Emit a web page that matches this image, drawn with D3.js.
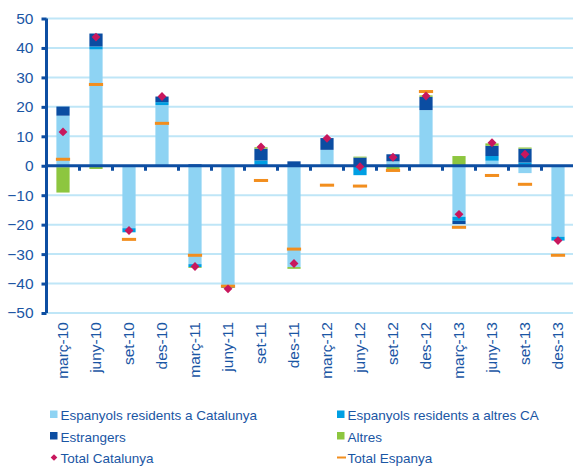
<!DOCTYPE html>
<html lang="ca">
<head>
<meta charset="UTF-8">
<script src="https://d3js.org/d3.v7.min.js"></script>
<style>
  body { margin: 0; background: #fff; }
  svg text { font-family: "Liberation Sans", Arial, sans-serif; fill: #1a56a4; }
</style>
</head>
<body>
<div id="chart"></div>
<script>
  // data (variation, thousands)
  const categories = ["març-10", "juny-10", "set-10", "des-10", "març-11", "juny-11", "set-11", "des-11",
    "març-12", "juny-12", "set-12", "des-12", "març-13", "juny-13", "set-13", "des-13"];
  const espCatalunya = [17.0, 39.5, -21.2, 20.6, -33.4, -41.0, 0, -34.4, 5.4, -0.3, 1.5, 18.9, -17.3, 1.7, -2.5, -24.1];
  const espAltresCA = [-0.5, 1.0, -1.4, 1.0, -1.0, -0.5, 1.8, 0, 0, -2.9, 0, 0, -1.4, 1.6, 1.1, -1.3];
  const estrangers = [3.1, 4.4, 0, 1.9, 0.5, 0, 4.0, 1.5, 4.0, 2.8, 2.4, 4.5, -1.1, 3.5, 4.7, 0];
  const altres = [-8.6, -1.1, 0, 0, -0.3, 0, 0.5, -0.6, 0, 0.3, -1.1, 0.5, 3.3, 0.8, 0.4, 0];
  const totalCatalunya = [11.5, 43.7, -22.0, 23.5, -34.2, -41.8, 6.4, -33.2, 9.3, -0.3, 2.9, 23.7, -16.5, 7.8, 3.9, -25.4];
  const totalEspanya = [2.2, 27.6, -25.0, 14.4, -30.4, -40.9, -5.0, -28.3, -6.6, -6.9, -1.6, 25.2, -20.9, -3.3, -6.3, -30.4];
  const yTicks = [50, 40, 30, 20, 10, 0, -10, -20, -30, -40, -50];

  const seriesNames = ["Espanyols residents a Catalunya", "Espanyols residents a altres CA", "Estrangers", "Altres"];
  const seriesColors = ["#8ed3f3", "#009fe3", "#0b4da2", "#8dc63f"];
  const seriesValues = [espCatalunya, espAltresCA, estrangers, altres];

  const width = 573, height = 467;
  const svg = d3.select("#chart").append("svg")
    .attr("width", width).attr("height", height);

  const x = d3.scaleBand()
    .domain(categories)
    .range([46.5, 574.5])
    .paddingInner(0.6)
    .paddingOuter(0.3);

  const y = d3.scaleLinear()
    .domain([-50, 50])
    .range([313, 18.5]);

  // grid lines
  svg.append("g")
    .selectAll("line")
    .data(yTicks.filter(d => d !== 0))
    .join("line")
    .attr("x1", 46).attr("x2", width)
    .attr("y1", d => y(d)).attr("y2", d => y(d))
    .attr("stroke", "#bfe6f7").attr("stroke-width", 2);

  // stacked bars
  const rows = categories.map((c, i) => {
    const r = { cat: c };
    seriesNames.forEach((s, k) => r[s] = seriesValues[k][i]);
    return r;
  });
  const stack = d3.stack().keys(seriesNames).offset(d3.stackOffsetDiverging);
  const layers = stack(rows);

  svg.append("g")
    .selectAll("g")
    .data(layers)
    .join("g")
    .attr("fill", (d, i) => seriesColors[i])
    .selectAll("rect")
    .data(d => d)
    .join("rect")
    .attr("x", d => x(d.data.cat))
    .attr("width", x.bandwidth())
    .attr("y", d => y(Math.max(d[0], d[1])))
    .attr("height", d => Math.abs(y(d[0]) - y(d[1])));

  // y axis
  const yAxis = svg.append("g").attr("transform", "translate(46.5,0)")
    .call(d3.axisLeft(y).tickValues(yTicks).tickSize(5).tickPadding(8).tickFormat(d3.format("d")));
  yAxis.select(".domain").attr("stroke", "#0d4ea2").attr("stroke-width", 3)
    .attr("d", `M0,${y(50)}V${y(-50)}`);
  yAxis.selectAll(".tick line").attr("stroke", "#0d4ea2").attr("stroke-width", 3);
  yAxis.selectAll(".tick text").attr("font-size", "15.5px").attr("fill", "#1a56a4");

  // x axis at zero, ticks between categories
  const boundaries = categories.map(c => x(c) + x.bandwidth() / 2 + x.step() / 2);
  svg.append("line")
    .attr("x1", 45).attr("x2", width)
    .attr("y1", y(0)).attr("y2", y(0))
    .attr("stroke", "#0d4ea2").attr("stroke-width", 3);
  svg.append("g")
    .selectAll("line")
    .data(boundaries)
    .join("line")
    .attr("x1", d => d).attr("x2", d => d)
    .attr("y1", y(0)).attr("y2", y(0) + 5)
    .attr("stroke", "#0d4ea2").attr("stroke-width", 3);

  // category labels
  svg.append("g")
    .selectAll("text")
    .data(categories)
    .join("text")
    .attr("transform", d => `translate(${x(d) + x.bandwidth() / 2 + 5},322) rotate(-90)`)
    .attr("text-anchor", "end")
    .attr("font-size", "15.5px")
    .text(d => d);

  // Total Espanya dashes
  svg.append("g")
    .selectAll("rect")
    .data(totalEspanya)
    .join("rect")
    .attr("x", (d, i) => x(categories[i]) - 0.5)
    .attr("width", x.bandwidth() + 1)
    .attr("y", d => y(d) - 1.5)
    .attr("height", 3)
    .attr("fill", "#f28e1e");

  // Total Catalunya diamonds
  svg.append("g")
    .selectAll("path")
    .data(totalCatalunya)
    .join("path")
    .attr("d", d3.symbol(d3.symbolDiamond2, 50))
    .attr("transform", (d, i) => `translate(${x(categories[i]) + x.bandwidth() / 2},${y(d)})`)
    .attr("fill", "#c8175d");

  // legend
  const legendItems = [
    { name: seriesNames[0], color: seriesColors[0], type: "rect", col: 0, row: 0 },
    { name: seriesNames[1], color: seriesColors[1], type: "rect", col: 1, row: 0 },
    { name: seriesNames[2], color: seriesColors[2], type: "rect", col: 0, row: 1 },
    { name: seriesNames[3], color: seriesColors[3], type: "rect", col: 1, row: 1 },
    { name: "Total Catalunya", color: "#c8175d", type: "diamond", col: 0, row: 2 },
    { name: "Total Espanya", color: "#f28e1e", type: "dash", col: 1, row: 2 }
  ];
  const colX = [50, 337];
  const rowY = [420, 441.5, 463];
  const lg = svg.append("g").selectAll("g")
    .data(legendItems)
    .join("g")
    .attr("transform", d => `translate(${colX[d.col]},${rowY[d.row]})`);
  lg.filter(d => d.type === "rect").append("rect")
    .attr("x", 0).attr("y", -9.5).attr("width", 7.5).attr("height", 7.5)
    .attr("fill", d => d.color);
  lg.filter(d => d.type === "diamond").append("path")
    .attr("d", d3.symbol(d3.symbolDiamond2, 28))
    .attr("transform", "translate(4,-5.5)")
    .attr("fill", d => d.color);
  lg.filter(d => d.type === "dash").append("rect")
    .attr("x", 0).attr("y", -6.5).attr("width", 9).attr("height", 2)
    .attr("fill", d => d.color);
  lg.append("text")
    .attr("x", 10.5).attr("y", 0)
    .attr("font-size", "13.5px")
    .text(d => d.name);
</script>
</body>
</html>
